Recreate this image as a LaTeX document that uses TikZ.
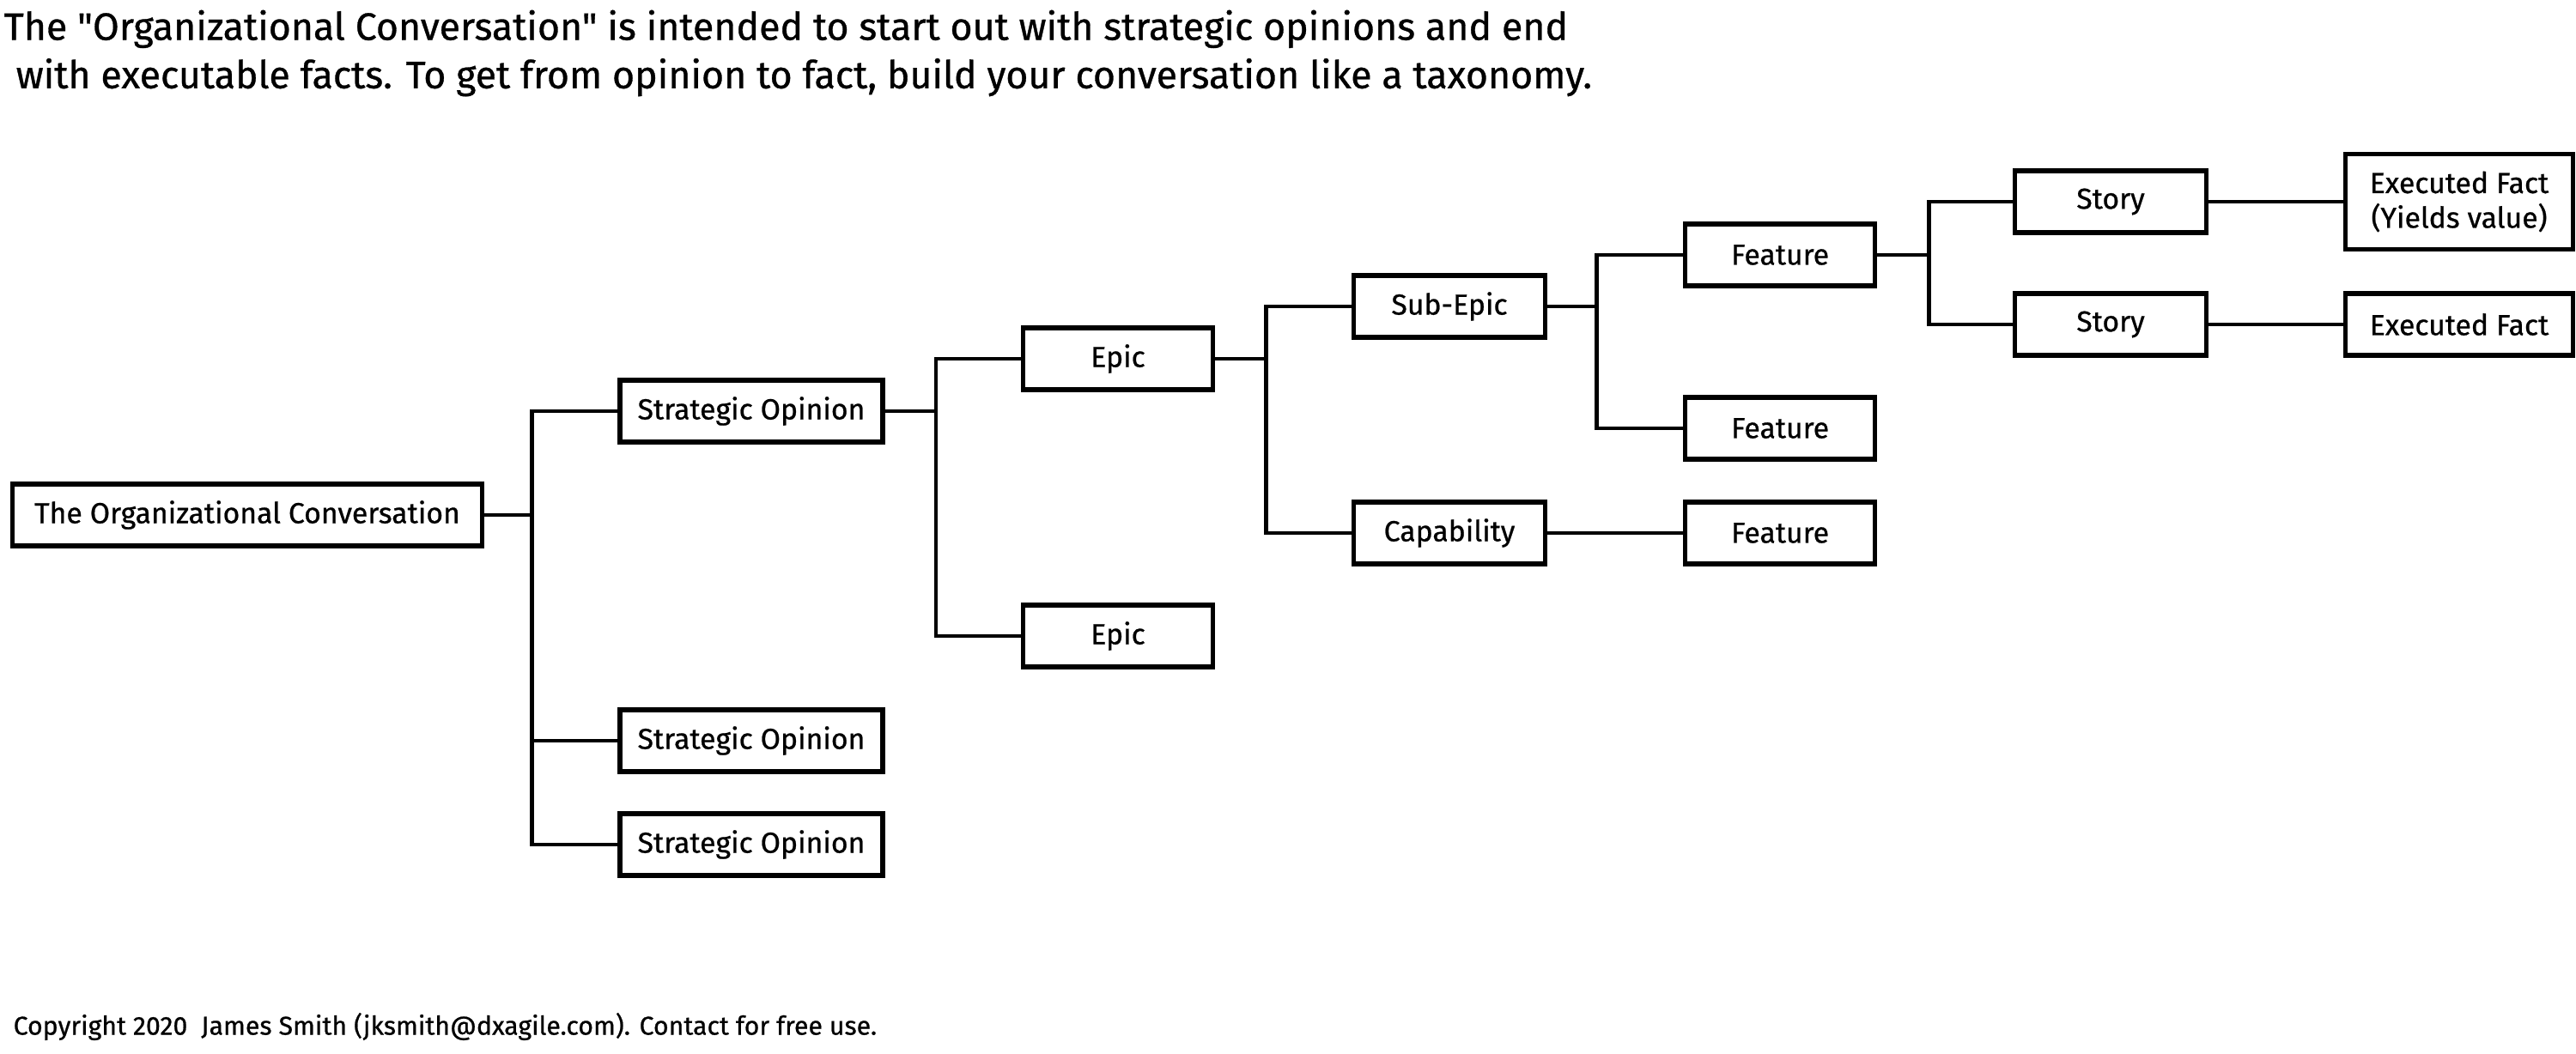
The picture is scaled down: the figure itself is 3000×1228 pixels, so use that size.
\documentclass[tikz,border=0pt]{standalone}
\usepackage{fontspec}
\setmainfont{Fira Sans}[Ligatures=TeXOff,FakeBold=0.7]

\begin{document}
\begin{tikzpicture}[x=0.01cm,y=-0.01cm,
	box/.style={draw,line width=1.6pt,minimum height=0.72cm,inner sep=0pt,align=center,font=\fontsize{9.6}{11.5}\selectfont},
	link/.style={line width=1.2pt}]
	\useasboundingbox (0,0) rectangle (3000,1228);
	\node[anchor=west,inner sep=0pt,align=left,font=\fontsize{12.7}{16}\selectfont] (title) at (4,62) {The "Organizational Conversation" is intended to start out with strategic opinions and end\\\hspace{0.14cm}with executable facts. To get from opinion to fact, build your conversation like a taxonomy.};
	\node[box,minimum width=5.47cm] (root) at (288,600) {The Organizational Conversation};
	\node[box,minimum width=3.06cm] (so1) at (875,479) {Strategic Opinion};
	\node[box,minimum width=3.06cm] (so2) at (875,863) {Strategic Opinion};
	\node[box,minimum width=3.06cm] (so3) at (875,984) {Strategic Opinion};
	\node[box,minimum width=2.21cm] (epic1) at (1302,418) {Epic};
	\node[box,minimum width=2.21cm] (epic2) at (1302,741) {Epic};
	\node[box,minimum width=2.23cm] (subepic) at (1688,357) {Sub-Epic};
	\node[box,minimum width=2.23cm] (capab) at (1688,621) {Capability};
	\node[box,minimum width=2.21cm] (feat1) at (2073,297) {Feature};
	\node[box,minimum width=2.21cm] (feat2) at (2073,499) {Feature};
	\node[box,minimum width=2.21cm] (feat3) at (2073,621) {Feature};
	\node[box,minimum width=2.23cm] (story1) at (2458,235) {Story};
	\node[box,minimum width=2.23cm] (story2) at (2458,378) {Story};
	\node[box,minimum width=2.65cm,minimum height=1.11cm] (fact1) at (2864,235) {Executed Fact\\(Yields value)};
	\node[box,minimum width=2.65cm] (fact2) at (2864,378) {Executed Fact};
	\node[anchor=west,inner sep=0pt,font=\fontsize{8.6}{10}\selectfont] (copy) at (15,1196) {Copyright 2020\ \ James Smith (jksmith@dxagile.com). Contact for free use.};
	\draw[link] (root.east) -- ++(55,0) |- (so1.west);
	\draw[link] (root.east) -- ++(55,0) |- (so2.west);
	\draw[link] (root.east) -- ++(55,0) |- (so3.west);
	\draw[link] (so1.east) -- ++(59,0) |- (epic1.west);
	\draw[link] (so1.east) -- ++(59,0) |- (epic2.west);
	\draw[link] (epic1.east) -- ++(59,0) |- (subepic.west);
	\draw[link] (epic1.east) -- ++(59,0) |- (capab.west);
	\draw[link] (subepic.east) -- ++(57,0) |- (feat1.west);
	\draw[link] (subepic.east) -- ++(57,0) |- (feat2.west);
	\draw[link] (capab) -- (feat3);
	\draw[link] (feat1.east) -- ++(60,0) |- (story1.west);
	\draw[link] (feat1.east) -- ++(60,0) |- (story2.west);
	\draw[link] (story1) -- (fact1);
	\draw[link] (story2) -- (fact2);
\end{tikzpicture}
\end{document}
